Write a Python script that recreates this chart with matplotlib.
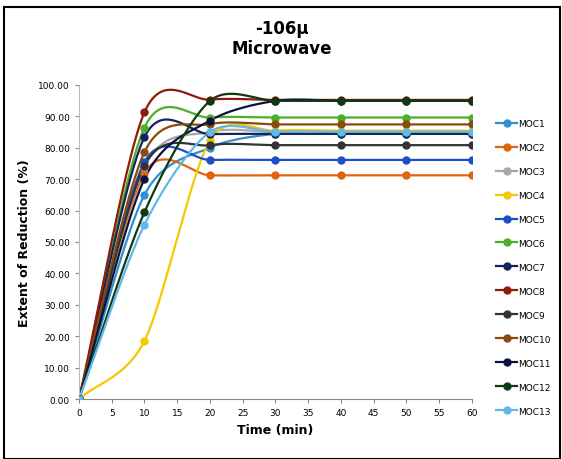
import matplotlib.pyplot as plt
import numpy as np

# time (min)
time = [0, 10, 20, 30, 40, 50, 60]

# extent of reduction (%) per sample
moc1 = [0, 65.0, 80.0, 84.4, 84.4, 84.4, 84.4]
moc2 = [0, 71.9, 71.2, 71.2, 71.2, 71.2, 71.2]
moc3 = [0, 74.0, 85.0, 85.0, 85.0, 85.0, 85.0]
moc4 = [0, 18.5, 82.3, 85.4, 85.4, 85.4, 85.4]
moc5 = [0, 75.4, 76.1, 76.1, 76.1, 76.1, 76.1]
moc6 = [0, 86.4, 89.6, 89.6, 89.6, 89.6, 89.6]
moc7 = [0, 83.4, 84.3, 84.4, 84.4, 84.4, 84.4]
moc8 = [0, 91.3, 95.3, 95.2, 95.2, 95.2, 95.2]
moc9 = [0, 74.3, 80.8, 80.8, 80.8, 80.8, 80.8]
moc10 = [0, 78.6, 87.5, 87.4, 87.4, 87.4, 87.4]
moc11 = [0, 70.1, 88.6, 94.9, 94.9, 94.9, 94.9]
moc12 = [0, 59.5, 94.9, 94.9, 94.9, 94.9, 94.9]
moc13 = [0, 55.5, 85.0, 85.1, 85.1, 85.1, 85.1]

series = [moc1, moc2, moc3, moc4, moc5, moc6, moc7,
          moc8, moc9, moc10, moc11, moc12, moc13]
labels = ['MOC%d' % (i + 1) for i in range(13)]
colors = ['#2f8fd0', '#e0640e', '#a8a8a8', '#f5c800', '#1c4fc4', '#4caf26',
          '#14235e', '#8c1b0c', '#333333', '#8a4a0a', '#0a1240', '#103a10',
          '#62b8e8']


# Excel-like smooth line (bezier through the points)
def smooth(x, y, n=40, k=7.0):
    x = np.asarray(x, float)
    y = np.asarray(y, float)
    px = np.concatenate([[2 * x[0] - x[1]], x, [2 * x[-1] - x[-2]]])
    py = np.concatenate([[2 * y[0] - y[1]], y, [2 * y[-1] - y[-2]]])
    xs, ys = [], []
    t = np.linspace(0, 1, n)
    for i in range(1, len(px) - 2):
        x0, x1, x2, x3 = px[i - 1:i + 3]
        y0, y1, y2, y3 = py[i - 1:i + 3]
        bx = [x1, x1 + (x2 - x0) / k, x2 - (x3 - x1) / k, x2]
        by = [y1, y1 + (y2 - y0) / k, y2 - (y3 - y1) / k, y2]
        b = [(1 - t) ** 3, 3 * (1 - t) ** 2 * t, 3 * (1 - t) * t ** 2, t ** 3]
        xs.extend(sum(b[j] * bx[j] for j in range(4)))
        ys.extend(sum(b[j] * by[j] for j in range(4)))
    return xs, ys


fig = plt.figure(figsize=(5.62, 4.6), dpi=100)
ax = fig.add_axes([0.1406, 0.1304, 0.699, 0.683])

for y, c, lab in zip(series, colors, labels):
    sx, sy = smooth(time, y)
    ax.plot(sx, sy, color=c, lw=1.6, zorder=2)
    ax.plot(time, y, 'o', color=c, ms=5, zorder=3)
    ax.plot([], [], '-o', color=c, lw=1.6, ms=5, label=lab)

ax.set_xlim(0, 60)
ax.set_ylim(0, 100)
ax.set_xticks(range(0, 61, 5))
ax.set_yticks(range(0, 101, 10))
ax.set_yticklabels(['%.2f' % v for v in range(0, 101, 10)])
ax.tick_params(labelsize=6.5, length=3, color='#888888')
for s in ['top', 'right']:
    ax.spines[s].set_visible(False)
ax.spines['left'].set_color('#bbbbbb')
ax.spines['bottom'].set_color('#888888')

ax.set_xlabel('Time (min)', fontsize=9, fontweight='bold')
ax.set_ylabel('Extent of Reduction (%)', fontsize=9, fontweight='bold', labelpad=5)
fig.text(0.502, 0.915, '-106\u03bc\nMicrowave', ha='center', va='center',
         fontsize=12, fontweight='bold', linespacing=1.2)

ax.legend(loc='upper left', bbox_to_anchor=(1.04, 0.918), frameon=False,
          fontsize=6.5, labelspacing=1.66, handlelength=2.4, handletextpad=0.1)

# outer border
fig.patches.append(plt.Rectangle((0.007, 0.0), 0.99, 0.982, transform=fig.transFigure,
                                 fill=False, edgecolor='black', lw=1.5))

plt.savefig('out.png', dpi=100)
